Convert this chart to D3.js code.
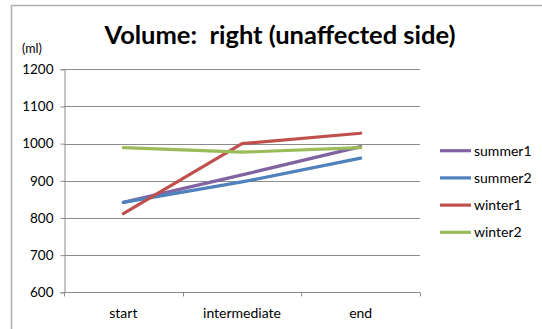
<!DOCTYPE html>
<html>
<head>
<meta charset="utf-8">
<script src="https://cdn.jsdelivr.net/npm/d3@7"></script>
<style>
  html, body { margin: 0; padding: 0; background: #fff; }
  svg { display: block; }
</style>
</head>
<body>
<svg id="chart" width="542" height="329"></svg>
<script>
// Stages along the x axis
const stages = ["start", "intermediate", "end"];
// Volume (ml) per series at each stage
const summer1 = [842, 916, 992];
const summer2 = [842, 897, 961];
const winter1 = [812, 1000, 1028];
const winter2 = [989, 977, 989];
const seriesNames = ["summer1", "summer2", "winter1", "winter2"];
const seriesColors = ["#8064A2", "#4F81BD", "#C0504D", "#9BBB59"];
const yTicks = [600, 700, 800, 900, 1000, 1100, 1200];

const series = [summer1, summer2, winter1, winter2].map((v, i) => ({
  name: seriesNames[i], color: seriesColors[i], values: v
}));

const svg = d3.select("#chart");
const font = "Lato, 'Open Sans', 'DejaVu Sans', sans-serif";

// Outer chart frame (top and left edges)
svg.append("path")
  .attr("d", "M11.5,329 V5.5 H542")
  .attr("fill", "none").attr("stroke", "#b0b0b0").attr("stroke-width", 1.5);

const plot = { left: 64, right: 420, top: 69.3, bottom: 292.3 };

const x = d3.scaleBand().domain(stages).range([plot.left, plot.right]);
const y = d3.scaleLinear().domain([600, 1200]).range([plot.bottom, plot.top]);

// Horizontal gridlines
svg.append("g").selectAll("line").data(yTicks.filter(t => t > 600)).join("line")
  .attr("x1", plot.left).attr("x2", plot.right)
  .attr("y1", d => Math.round(y(d)) + 0.5).attr("y2", d => Math.round(y(d)) + 0.5)
  .attr("stroke", "#8c8c8c").attr("stroke-width", 1);

// Y axis
const yAxis = svg.append("g")
  .attr("transform", `translate(${plot.left + 0.5},0)`)
  .call(d3.axisLeft(y).tickValues(yTicks).tickFormat(d3.format("d")).tickSize(4).tickPadding(7));
yAxis.select(".domain").attr("stroke", "#8c8c8c");
yAxis.selectAll(".tick line").attr("stroke", "#8c8c8c");
yAxis.selectAll(".tick text").attr("font-family", font).attr("font-size", 13.5).attr("fill", "#000");

// X axis with boundary ticks between categories
const xAxisG = svg.append("g").attr("transform", `translate(0,${Math.round(plot.bottom) + 0.5})`);
xAxisG.append("line").attr("x1", plot.left).attr("x2", plot.right)
  .attr("stroke", "#8c8c8c");
const bounds = stages.map(s => x(s)).concat([x(stages[stages.length - 1]) + x.bandwidth()]);
xAxisG.selectAll("line.b").data(bounds).join("line").attr("class", "b")
  .attr("x1", d => Math.round(d) + 0.5).attr("x2", d => Math.round(d) + 0.5)
  .attr("y1", 0).attr("y2", 4).attr("stroke", "#8c8c8c");
xAxisG.selectAll("text").data(stages).join("text")
  .attr("x", d => x(d) + x.bandwidth() / 2).attr("y", 25)
  .attr("text-anchor", "middle").attr("font-family", font).attr("font-size", 14)
  .attr("fill", "#000").text(d => d);

// Series lines
const line = d3.line()
  .x((d, i) => x(stages[i]) + x.bandwidth() / 2)
  .y(d => y(d));
svg.append("g").selectAll("path").data(series).join("path")
  .attr("d", d => line(d.values))
  .attr("fill", "none").attr("stroke", d => d.color)
  .attr("stroke-width", 3.2).attr("stroke-linejoin", "round").attr("stroke-linecap", "round");

// Title and unit label
svg.append("text").attr("x", 280).attr("y", 43.5).attr("text-anchor", "middle")
  .style("white-space", "pre")
  .attr("font-family", font).attr("font-weight", "bold").attr("font-size", 25.5)
  .attr("fill", "#000").text("Volume:  right (unaffected side)");
svg.append("text").attr("x", 22).attr("y", 53)
  .attr("font-family", font).attr("font-size", 12.5).attr("fill", "#000").text("(ml)");

// Legend
const legend = svg.append("g").selectAll("g").data(series).join("g")
  .attr("transform", (d, i) => `translate(440,${150.7 + i * 27.2})`);
legend.append("line").attr("x1", 0).attr("x2", 31)
  .attr("stroke", d => d.color).attr("stroke-width", 3.2);
legend.append("text").attr("x", 34).attr("y", 5)
  .attr("font-family", font).attr("font-size", 14).attr("fill", "#000").text(d => d.name);
</script>
</body>
</html>
